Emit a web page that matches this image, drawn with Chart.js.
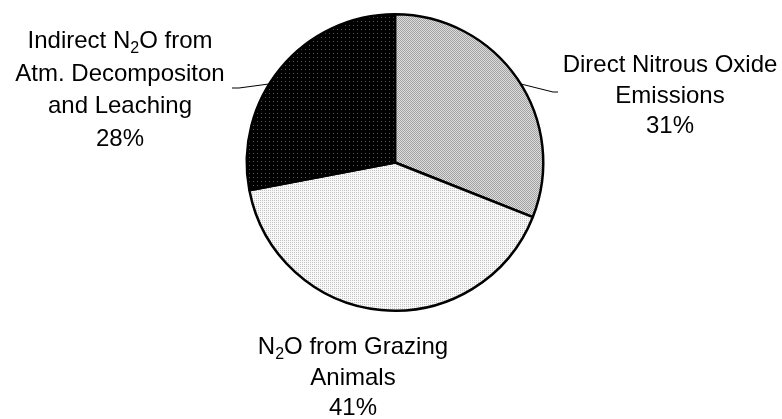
<!DOCTYPE html>
<html lang="en">
<head>
    <meta charset="UTF-8">
    <title>N2O Emissions</title>
    <script src="https://cdn.jsdelivr.net/npm/chart.js"></script>
    <style>
        body { margin: 0; background: #fff; }
        #wrap { width: 782px; height: 419px; }
    </style>
</head>
<body>
    <div id="wrap"><canvas id="pieChart"></canvas></div>
    <script>
// categories, in clockwise order from 12 o'clock
const categories = ['Direct Nitrous Oxide Emissions', 'N2O from Grazing Animals', 'Indirect N2O from Atm. Decompositon and Leaching'];
const shares = [31, 41, 28];
// label text lines ("_2" marks a subscript 2)
const labelLines = [
    ['Direct Nitrous Oxide', 'Emissions', '31%'],
    ['N_2O from Grazing', 'Animals', '41%'],
    ['Indirect N_2O from', 'Atm. Decompositon', 'and Leaching', '28%']
];

// small dotted fills like the original
function makePattern(size, bg, fg, dots) {
    const c = document.createElement('canvas');
    c.width = size; c.height = size;
    const g = c.getContext('2d');
    g.fillStyle = bg;
    g.fillRect(0, 0, size, size);
    g.fillStyle = fg;
    dots.forEach(d => g.fillRect(d[0], d[1], 1, 1));
    return g.createPattern(c, 'repeat');
}
const ctx = document.getElementById('pieChart').getContext('2d');
const fills = [
    makePattern(2, '#dedede', '#a0a0a0', [[0, 0], [1, 1]]),
    makePattern(2, '#f8f8f8', '#c4c4c4', [[0, 0]]),
    makePattern(4, '#000000', '#5a5a5a', [[1, 1]])
];

// where labels sit and where leader lines go (layout only)
const labelPos = [
    { x: 670, y: 72, lh: 30.5, leader: { angle: 58, elbow: [553, 92], end: [558, 92] } },
    { x: 353, y: 354, lh: 30.5 },
    { x: 120, y: 48, lh: 32.5, leader: { angle: -58, elbow: [239, 88], end: [232, 88] } }
];

function drawRich(g, text, cx, y) {
    const parts = text.split('_2');
    g.font = '24px "Liberation Sans", Arial, sans-serif';
    let w = 0;
    parts.forEach(p => { w += g.measureText(p).width; });
    g.font = '16px "Liberation Sans", Arial, sans-serif';
    const subW = g.measureText('2').width;
    w += subW * (parts.length - 1);
    let x = cx - w / 2;
    parts.forEach((p, i) => {
        g.font = '24px "Liberation Sans", Arial, sans-serif';
        g.fillText(p, x, y);
        x += g.measureText(p).width;
        if (i < parts.length - 1) {
            g.font = '16px "Liberation Sans", Arial, sans-serif';
            g.fillText('2', x, y + 5);
            x += subW;
        }
    });
}

const outsideLabels = {
    id: 'outsideLabels',
    afterDraw(chart) {
        const g = chart.ctx;
        const arc = chart.getDatasetMeta(0).data[0];
        g.save();
        g.fillStyle = '#000';
        g.textAlign = 'left';
        g.textBaseline = 'alphabetic';
        labelLines.forEach((lines, i) => {
            const pos = labelPos[i];
            lines.forEach((t, k) => drawRich(g, t, pos.x, pos.y + k * pos.lh));
            if (pos.leader) {
                const a = pos.leader.angle * Math.PI / 180;
                const sx = arc.x + arc.outerRadius * Math.sin(a);
                const sy = arc.y - arc.outerRadius * Math.cos(a);
                g.strokeStyle = '#000';
                g.lineWidth = 1;
                g.beginPath();
                g.moveTo(sx, sy);
                g.lineTo(pos.leader.elbow[0], pos.leader.elbow[1]);
                g.lineTo(pos.leader.end[0], pos.leader.end[1]);
                g.stroke();
            }
        });
        g.restore();
    }
};

new Chart(ctx, {
    type: 'pie',
    data: {
        labels: categories,
        datasets: [{
            data: shares,
            backgroundColor: fills,
            hoverBackgroundColor: fills,
            borderColor: '#000',
            borderWidth: 2.5
        }]
    },
    options: {
        responsive: true,
        maintainAspectRatio: false,
        animation: false,
        layout: { padding: { top: 13, bottom: 107, left: 8, right: 0 } },
        plugins: {
            legend: { display: false },
            tooltip: { enabled: false }
        }
    },
    plugins: [outsideLabels]
});
    </script>
</body>
</html>
